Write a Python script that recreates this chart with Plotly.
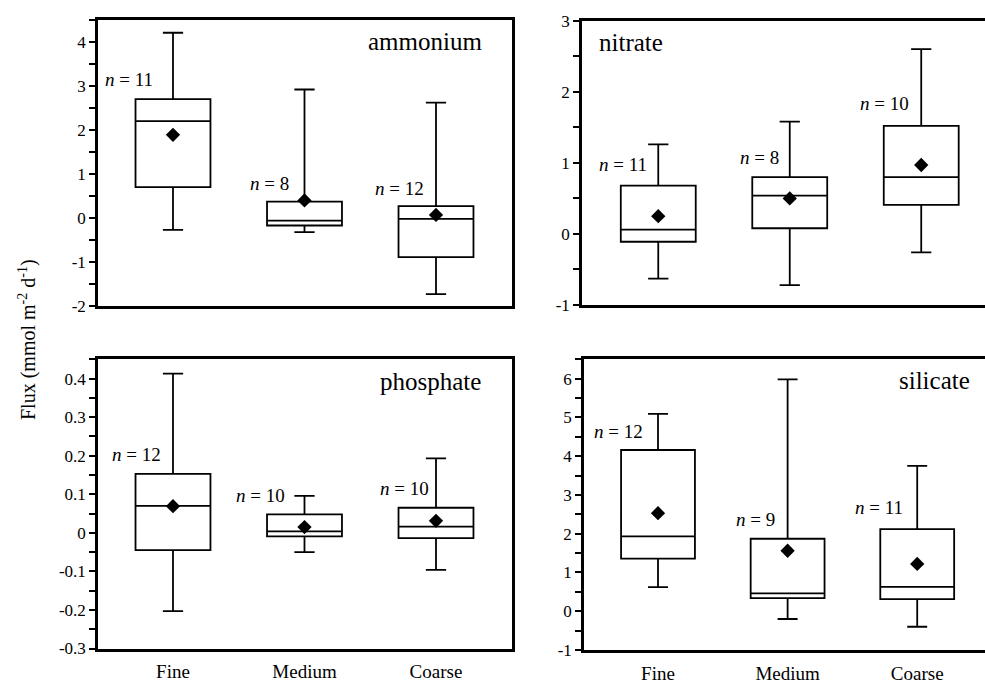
import plotly.graph_objects as go

FONT = "Liberation Serif, Times New Roman, serif"

categories = ["Fine", "Medium", "Coarse"]
positions = [1, 2, 3]

# ammonium
amm_low = [-0.27, -0.32, -1.73]
amm_q1 = [0.70, -0.17, -0.89]
amm_med = [2.20, -0.06, -0.02]
amm_q3 = [2.70, 0.37, 0.27]
amm_high = [4.21, 2.92, 2.62]
amm_mean = [1.89, 0.40, 0.07]
amm_n = [11, 8, 12]

# nitrate
nit_low = [-0.63, -0.72, -0.26]
nit_q1 = [-0.11, 0.08, 0.41]
nit_med = [0.06, 0.54, 0.80]
nit_q3 = [0.68, 0.80, 1.52]
nit_high = [1.26, 1.58, 2.60]
nit_mean = [0.25, 0.50, 0.97]
nit_n = [11, 8, 10]

# phosphate
pho_low = [-0.203, -0.050, -0.096]
pho_q1 = [-0.045, -0.009, -0.014]
pho_med = [0.070, 0.004, 0.016]
pho_q3 = [0.153, 0.048, 0.065]
pho_high = [0.413, 0.096, 0.193]
pho_mean = [0.069, 0.015, 0.031]
pho_n = [12, 10, 10]

# silicate
sil_low = [0.62, -0.20, -0.40]
sil_q1 = [1.36, 0.34, 0.31]
sil_med = [1.93, 0.46, 0.63]
sil_q3 = [4.16, 1.87, 2.12]
sil_high = [5.09, 5.98, 3.75]
sil_mean = [2.53, 1.56, 1.22]
sil_n = [12, 9, 11]

amm_ticks = [-2, -1, 0, 1, 2, 3, 4]
amm_ticktext = ["-2", "-1", "0", "1", "2", "3", "4"]
nit_ticks = [-1, 0, 1, 2, 3]
nit_ticktext = ["-1", "0", "1", "2", "3"]
pho_ticks = [-0.3, -0.2, -0.1, 0, 0.1, 0.2, 0.3, 0.4]
pho_ticktext = ["-0.3", "-0.2", "-0.1", "0", "0.1", "0.2", "0.3", "0.4"]
sil_ticks = [-1, 0, 1, 2, 3, 4, 5, 6]
sil_ticktext = ["-1", "0", "1", "2", "3", "4", "5", "6"]

panels = [
    dict(name="ammonium", low=amm_low, q1=amm_q1, med=amm_med, q3=amm_q3, high=amm_high,
         mean=amm_mean, n=amm_n, ticks=amm_ticks, ticktext=amm_ticktext, yrange=[-2, 4.5],
         minor=0.5, xrange=[0.4297, 3.578], xdom=[98 / 985, 512 / 985],
         ydom=[1 - 306 / 685, 1 - 20 / 685], mirror_right=True, xlabels=False,
         nlab_x=[0.863, 1.897, 2.924], nlab_y=[3.14, 0.79, 0.68],
         title_x=3.365, title_y=4.0, title_anchor="right"),
    dict(name="nitrate", low=nit_low, q1=nit_q1, med=nit_med, q3=nit_q3, high=nit_high,
         mean=nit_mean, n=nit_n, ticks=nit_ticks, ticktext=nit_ticktext, yrange=[-1, 3],
         minor=0.5, xrange=[0.420, 3.485], xdom=[582 / 985, 1.0],
         ydom=[1 - 305 / 685, 1 - 20.7 / 685], mirror_right=False, xlabels=False,
         nlab_x=[0.929, 1.933, 2.922], nlab_y=[0.98, 1.07, 1.83],
         title_x=0.534, title_y=2.70, title_anchor="left"),
    dict(name="phosphate", low=pho_low, q1=pho_q1, med=pho_med, q3=pho_q3, high=pho_high,
         mean=pho_mean, n=pho_n, ticks=pho_ticks, ticktext=pho_ticktext, yrange=[-0.3, 0.45],
         minor=0.05, xrange=[0.4297, 3.578], xdom=[98 / 985, 512 / 985],
         ydom=[1 - 648.5 / 685, 1 - 359.3 / 685], mirror_right=True, xlabels=True,
         nlab_x=[0.924, 1.867, 2.962], nlab_y=[0.204, 0.096, 0.115],
         title_x=3.358, title_y=0.392, title_anchor="right"),
    dict(name="silicate", low=sil_low, q1=sil_q1, med=sil_med, q3=sil_q3, high=sil_high,
         mean=sil_mean, n=sil_n, ticks=sil_ticks, ticktext=sil_ticktext, yrange=[-1, 6.5],
         minor=0.5, xrange=[0.429, 3.523], xdom=[584 / 985, 1.0],
         ydom=[1 - 650 / 685, 1 - 359.3 / 685], mirror_right=False, xlabels=True,
         nlab_x=[0.900, 1.918, 2.906], nlab_y=[4.64, 2.37, 2.68],
         title_x=3.423, title_y=5.95, title_anchor="right"),
]

fig = go.Figure()
annotations = []

for i, p in enumerate(panels):
    k = "" if i == 0 else str(i + 1)
    xa, ya = "x" + k, "y" + k
    fig.add_trace(go.Box(
        x=positions, q1=p["q1"], median=p["med"], q3=p["q3"],
        lowerfence=p["low"], upperfence=p["high"],
        width=0.57, whiskerwidth=0.27, boxpoints=False,
        fillcolor="white", line=dict(color="black", width=1.8),
        xaxis=xa, yaxis=ya, showlegend=False, hoverinfo="skip",
    ))
    fig.add_trace(go.Scatter(
        x=positions, y=p["mean"], mode="markers",
        marker=dict(symbol="diamond", size=11, color="black"),
        xaxis=xa, yaxis=ya, showlegend=False, hoverinfo="skip",
    ))
    xkey = "xaxis" + k
    ykey = "yaxis" + k
    xcfg = dict(
        domain=p["xdom"], range=p["xrange"], anchor=ya, automargin=False,
        showline=True, linecolor="black", linewidth=2.5, mirror=True,
        showgrid=False, zeroline=False, ticks="",
        showticklabels=p["xlabels"],
        tickfont=dict(family=FONT, size=19, color="black"),
    )
    if p["xlabels"]:
        xcfg.update(tickvals=positions, ticktext=categories, ticklabelstandoff=4)
    fig.layout[xkey] = xcfg
    fig.layout[ykey] = dict(
        domain=p["ydom"], range=p["yrange"], anchor=xa, automargin=False,
        showline=True, linecolor="black", linewidth=2.5, mirror=p["mirror_right"],
        showgrid=False, zeroline=False,
        ticks="outside", ticklen=6, tickwidth=2, tickcolor="black",
        tickvals=p["ticks"], ticktext=p["ticktext"],
        tickfont=dict(family=FONT, size=17, color="black"),
        minor=dict(ticks="outside", dtick=p["minor"], ticklen=6, tickwidth=2, tickcolor="black"),
    )
    for j in range(3):
        annotations.append(dict(
            x=p["nlab_x"][j], y=p["nlab_y"][j], xref=xa, yref=ya,
            text="<i>n</i> = " + str(p["n"][j]), showarrow=False,
            xanchor="right", yanchor="middle",
            font=dict(family=FONT, size=19, color="black"),
        ))
    annotations.append(dict(
        x=p["title_x"], y=p["title_y"], xref=xa, yref=ya, text=p["name"],
        showarrow=False, xanchor=p["title_anchor"], yanchor="middle",
        font=dict(family=FONT, size=25, color="black"),
    ))

annotations.append(dict(
    x=27 / 985, y=1 - 340 / 685, xref="paper", yref="paper",
    text="Flux (mmol m<sup>-2</sup> d<sup>-1</sup>)", textangle=-90,
    showarrow=False, xanchor="center", yanchor="middle",
    font=dict(family=FONT, size=20, color="black"),
))

fig.update_layout(
    width=985, height=685,
    margin=dict(l=0, r=0, t=0, b=0, autoexpand=False),
    paper_bgcolor="white", plot_bgcolor="white",
    annotations=annotations,
    showlegend=False,
)

fig.write_html("out.html")
